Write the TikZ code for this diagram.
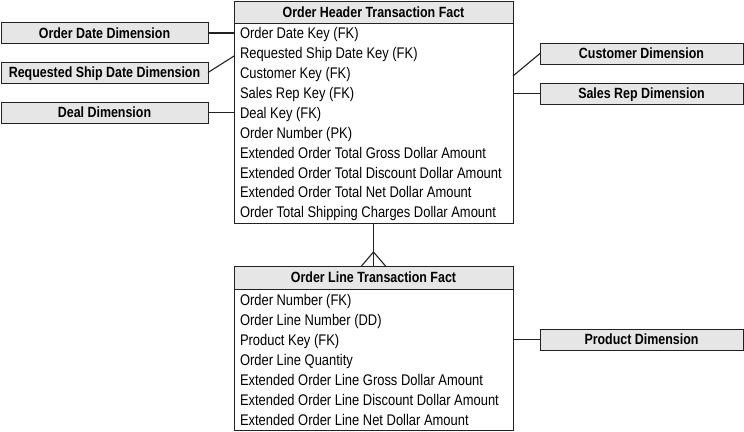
\documentclass[tikz,border=0pt]{standalone}
\usepackage{fontspec}
\setmainfont{Liberation Sans}[FakeStretch=0.84]
\usetikzlibrary{calc}
\definecolor{boxfill}{HTML}{E6E6E6}
\definecolor{linegray}{HTML}{222222}
\begin{document}
\begin{tikzpicture}[x=1pt,y=-1pt,
  every node/.style={inner sep=0pt, outer sep=0pt},
  dimbox/.style={draw=linegray, line width=1pt, fill=boxfill, minimum height=21pt,
    text height=10.6pt, text depth=0pt,
    font=\fontsize{14.8}{15}\selectfont\bfseries},
  leftdim/.style={dimbox, minimum width=207pt},
  rightdim/.style={dimbox, minimum width=203pt},
  titlebar/.style={draw=linegray, line width=1pt, fill=boxfill, minimum width=279pt, minimum height=22pt,
    text height=10.6pt, text depth=0pt,
    font=\fontsize{14.8}{15}\selectfont\bfseries},
  tablebody/.style={draw=linegray, line width=1pt, fill=white, minimum width=279pt},
  rowtext/.style={anchor=base west, font=\fontsize{15.4}{16}\selectfont},
  conn/.style={draw=linegray, line width=1.1pt}
]
\useasboundingbox (0,0) rectangle (744,431);

% Order Header Transaction Fact
\node[tablebody, minimum height=200pt] (hdr) at (373.5,123) {};
\node[titlebar] (hdrtitle) at (373.5,12) {Order Header Transaction Fact};
\node[rowtext] (h1) at (240,38.8) {Order Date Key (FK)};
\node[rowtext] (h2) at (240,58.7) {Requested Ship Date Key (FK)};
\node[rowtext] (h3) at (240,78.6) {Customer Key (FK)};
\node[rowtext] (h4) at (240,98.5) {Sales Rep Key (FK)};
\node[rowtext] (h5) at (240,118.4) {Deal Key (FK)};
\node[rowtext] (h6) at (240,138.2) {Order Number (PK)};
\node[rowtext] (h7) at (240,158.1) {Extended Order Total Gross Dollar Amount};
\node[rowtext] (h8) at (240,178) {Extended Order Total Discount Dollar Amount};
\node[rowtext] (h9) at (240,197.8) {Extended Order Total Net Dollar Amount};
\node[rowtext] (h10) at (240,217.7) {Order Total Shipping Charges Dollar Amount};

% Order Line Transaction Fact
\node[tablebody, minimum height=141pt] (ln) at (373.5,359.5) {};
\node[titlebar, minimum height=23pt] (lntitle) at (373.5,277.5) {Order Line Transaction Fact};
\node[rowtext] (l1) at (240,305.8) {Order Number (FK)};
\node[rowtext] (l2) at (240,325.7) {Order Line Number (DD)};
\node[rowtext] (l3) at (240,345.5) {Product Key (FK)};
\node[rowtext] (l4) at (240,365.4) {Order Line Quantity};
\node[rowtext] (l5) at (240,385.3) {Extended Order Line Gross Dollar Amount};
\node[rowtext] (l6) at (240,405.1) {Extended Order Line Discount Dollar Amount};
\node[rowtext] (l7) at (240,425) {Extended Order Line Net Dollar Amount};

% Dimensions
\node[leftdim] (odd) at (104.5,33) {Order Date Dimension};
\node[leftdim] (rsd) at (104.5,72.5) {Requested Ship Date Dimension};
\node[leftdim] (dd) at (104.5,112.5) {Deal Dimension};
\node[rightdim] (cd) at (641.5,53.5) {Customer Dimension};
\node[rightdim] (srd) at (641.5,93.5) {Sales Rep Dimension};
\node[rightdim] (pd) at (641.5,339.5) {Product Dimension};

% Connectors
\draw[conn] (odd.east) -- (hdr.west |- odd.east);
\draw[conn] (rsd.east) -- (hdr.west |- h2.mid);
\draw[conn] (dd.east) -- (hdr.west |- dd.east);
\draw[conn] (cd.west) -- (hdr.east |- h3.mid);
\draw[conn] (srd.west) -- (hdr.east |- srd.west);
\draw[conn] (pd.west) -- (ln.east |- pd.west);

% one-to-many (crow's foot)
\coordinate (cf) at ($(lntitle.north)+(0,-14)$);
\draw[conn] (hdr.south) -- (lntitle.north);
\draw[conn] ($(lntitle.north)+(-12,0)$) -- (cf) -- ($(lntitle.north)+(12,0)$);
\end{tikzpicture}
\end{document}
